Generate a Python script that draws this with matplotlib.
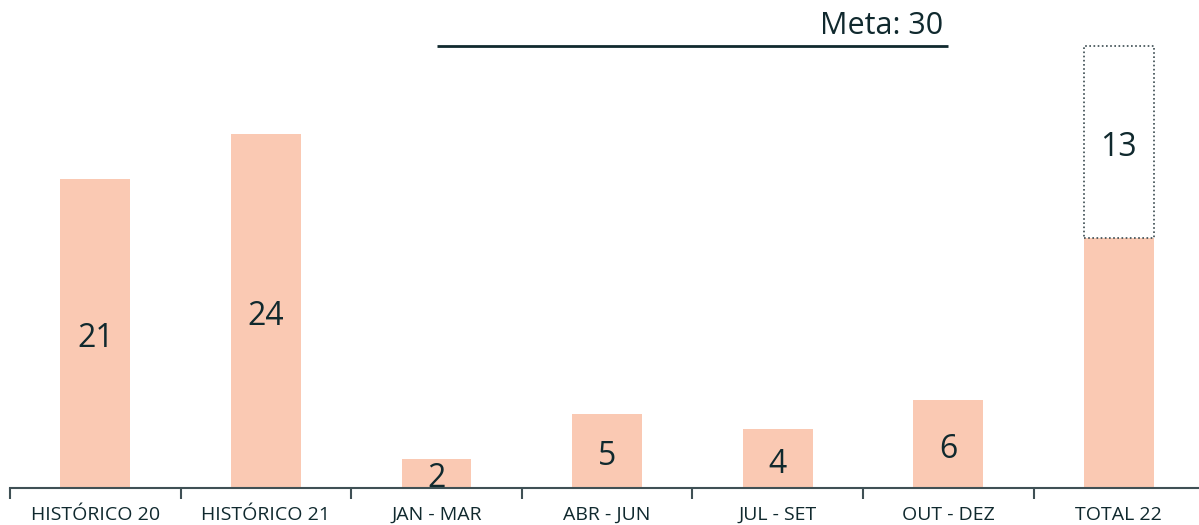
#!/usr/bin/env python3
"""Bar chart: results per period vs goal (Meta)."""

import matplotlib
matplotlib.use("Agg")
import matplotlib.pyplot as plt

# data
categories = ["HISTÓRICO 20", "HISTÓRICO 21", "JAN - MAR", "ABR - JUN",
              "JUL - SET", "OUT - DEZ", "TOTAL 22"]
values = [21, 24, 2, 5, 4, 6, 17]
show_label = [True, True, True, True, True, True, False]
goal = 30
goal_label = "Meta: 30"
goal_span = (2, 5)  # from JAN - MAR to OUT - DEZ

BAR_COLOR = "#FAC9B3"
TEXT_COLOR = "#10292E"
AXIS_COLOR = "#3F5055"

plt.rcParams["font.family"] = ["Open Sans", "DejaVu Sans"]

fig = plt.figure(figsize=(11.99, 5.25), dpi=100)
px_per_unit = 14.73
ax = fig.add_axes([10 / 1199, 37 / 525, 7 * 170.6 / 1199, 33 * px_per_unit / 525])

x = list(range(len(categories)))
width = 0.41
ax.bar(x, values, width=width, color=BAR_COLOR, zorder=2)

# remaining part of the total up to the goal
last = x[-1]
remaining = goal - values[-1]
ax.bar(last, remaining, bottom=values[-1], width=width, fill=False,
       edgecolor="#3A4A4F", linestyle=(0, (1, 1.5)), linewidth=1.2, zorder=3)
ax.text(last, values[-1] + remaining / 2 - 0.1, str(remaining), ha="center",
        va="center_baseline", fontsize=23, color=TEXT_COLOR)

for xi, v, show in zip(x, values, show_label):
    if show:
        ax.text(xi, v / 2 - 0.1, str(v), ha="center", va="center_baseline",
                fontsize=23, color=TEXT_COLOR, zorder=4)

# goal line
ax.plot(goal_span, [goal, goal], color=TEXT_COLOR, linewidth=2, zorder=4,
        solid_capstyle="butt")
ax.text(goal_span[1] - 0.03, goal + 0.35, goal_label, ha="right", va="bottom",
        fontsize=22, color=TEXT_COLOR)

ax.set_xlim(-0.5, len(categories) - 0.5)
ax.set_ylim(0, 33)

for side in ["top", "right", "left"]:
    ax.spines[side].set_visible(False)
ax.spines["bottom"].set_color(AXIS_COLOR)
ax.spines["bottom"].set_linewidth(1.5)

ax.set_yticks([])
ax.set_xticks([i - 0.5 for i in range(len(categories) + 1)])
ax.set_xticklabels([])
ax.tick_params(axis="x", which="major", length=8, width=1.5, color=AXIS_COLOR,
               direction="out")
ax.set_xticks(x, minor=True)
ax.set_xticklabels(categories, minor=True, fontsize=14, color=TEXT_COLOR)
ax.tick_params(axis="x", which="minor", length=0, pad=13)

fig.savefig("out.png", dpi=100)
